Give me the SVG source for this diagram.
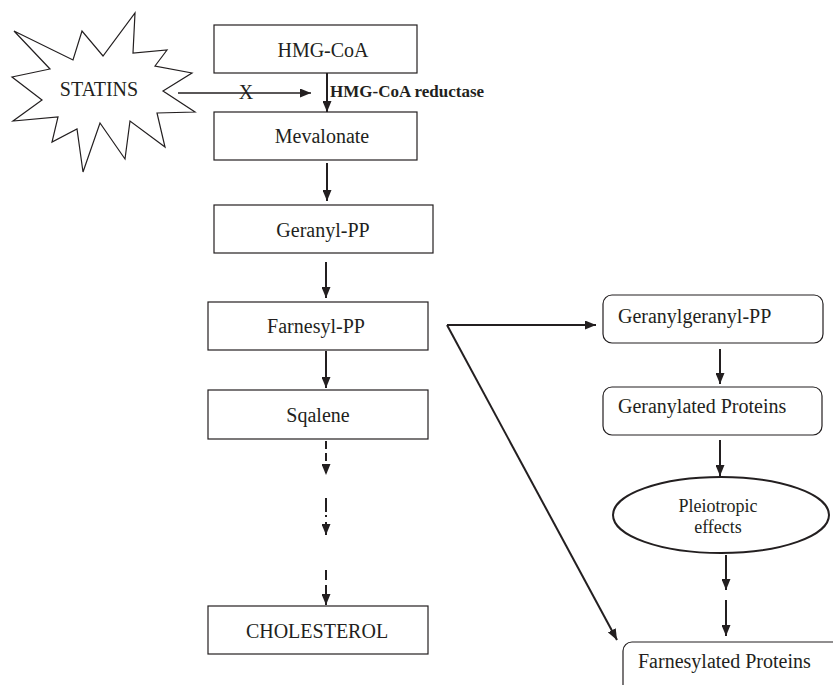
<svg xmlns="http://www.w3.org/2000/svg" width="833" height="685" viewBox="0 0 833 685">
<style>
.box{fill:#fff;stroke:#231f20;stroke-width:1.2}
.ell{fill:#fff;stroke:#231f20;stroke-width:2}
text{font-family:'Liberation Serif','Tinos','Times New Roman','DejaVu Serif',serif;font-size:20px;fill:#231f20}
.tc{text-anchor:middle}
.b{font-weight:bold;font-size:17px}
.s{font-size:18px}
.a{stroke:#231f20;stroke-width:2;fill:none;marker-end:url(#ah)}
.thin{stroke-width:1.3}
.d{stroke-dasharray:8,4}
</style>
<defs>
<marker id="ah" markerUnits="userSpaceOnUse" markerWidth="11" markerHeight="9" refX="11" refY="4.5" orient="auto">
<path d="M0,0 L11,4.5 L0,9 z" fill="#231f20"/>
</marker>
</defs>
<rect width="833" height="685" fill="#fff"/>

<g id="statins">
<polygon class="box" points="14,31 73,60 82,31 103,56 135,13 133,53 167,50 155,66 192,73 163,91 195,112 157,113 165,147 130,121 125,159 100,123 83,172 77,129 52,142 58,117 13,121 42,100 12,77 50,69"/>
<text class="tc" x="99" y="96" font-family="Liberation Serif, serif">STATINS</text>
</g>

<g id="hmgcoa">
<rect class="box" x="214" y="25" width="203" height="48"/>
<text class="tc" x="323" y="57">HMG-CoA</text>
</g>
<g id="mevalonate">
<rect class="box" x="214" y="112" width="203" height="48"/>
<text class="tc" x="322" y="143">Mevalonate</text>
</g>
<g id="geranylpp">
<rect class="box" x="214" y="205" width="219" height="48"/>
<text class="tc" x="323" y="237">Geranyl-PP</text>
</g>
<g id="farnesylpp">
<rect class="box" x="208" y="302" width="220" height="48"/>
<text class="tc" x="316" y="333">Farnesyl-PP</text>
</g>
<g id="sqalene">
<rect class="box" x="208" y="390" width="220" height="49"/>
<text class="tc" x="318" y="422">Sqalene</text>
</g>
<g id="cholesterol">
<rect class="box" x="208" y="606" width="220" height="48"/>
<text class="tc" x="317" y="638">CHOLESTEROL</text>
</g>

<g id="geranylgeranylpp">
<rect class="box" x="603" y="295" width="220" height="48" rx="9"/>
<text x="618" y="323">Geranylgeranyl-PP</text>
</g>
<g id="geranylated">
<rect class="box" x="603" y="387" width="219" height="48" rx="9"/>
<text x="618" y="413">Geranylated Proteins</text>
</g>
<g id="pleiotropic">
<ellipse class="ell" cx="721" cy="515" rx="108" ry="38"/>
<text class="s tc" x="718" y="512">Pleiotropic</text>
<text class="s tc" x="718" y="533">effects</text>
</g>
<g id="farnesylated">
<rect class="box" x="623" y="642" width="240" height="70" rx="9"/>
<text x="638" y="668">Farnesylated Proteins</text>
</g>

<g id="connectors">
<line class="a thin" x1="178" y1="93" x2="311" y2="93"/>
<text class="tc" x="246" y="99">X</text>
<text class="b" x="330" y="97">HMG-CoA reductase</text>
<line class="a" x1="327" y1="73" x2="327" y2="112"/>
<line class="a" x1="327" y1="163" x2="327" y2="201"/>
<line class="a" x1="326" y1="262" x2="326" y2="298"/>
<line class="a" x1="326" y1="351" x2="326" y2="388"/>
<line class="a d" x1="326" y1="441" x2="326" y2="475"/>
<line class="a d" x1="326" y1="498" x2="326" y2="535" style="stroke-dasharray:14,3,2,5"/>
<line class="a d" x1="326" y1="570" x2="326" y2="605" style="stroke-dasharray:10,5"/>
<path class="a" d="M447,325 H596"/>
<line class="a" x1="447" y1="325" x2="617" y2="640"/>
<line class="a" x1="720" y1="349" x2="720" y2="384"/>
<line class="a" x1="720" y1="440" x2="720" y2="476"/>
<line class="a" x1="726" y1="555" x2="726" y2="590"/>
<line class="a" x1="726" y1="600" x2="726" y2="636"/>
</g>
</svg>
